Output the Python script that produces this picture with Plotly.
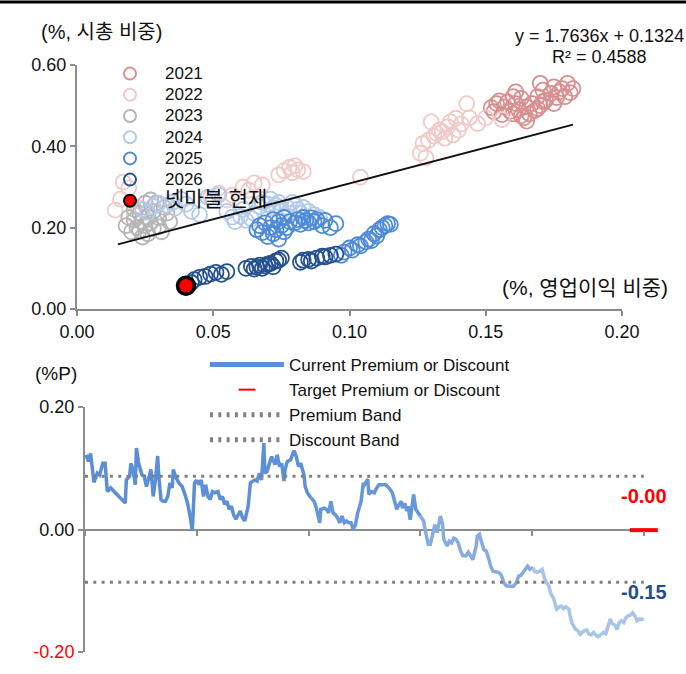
import plotly.graph_objects as go
import numpy as np

W, H = 686, 674

# ---------------- scatter data (x: 영업이익 비중, y: 시총 비중) ----------------
YEARS = ["2021", "2022", "2023", "2024", "2025", "2026"]

x21 = [0.152,0.153,0.154,0.155,0.156,0.157,0.158,0.159,0.160,0.161,0.161,0.162,0.163,0.163,0.164,0.165,0.166,0.167,0.168,0.169,0.169,0.170,0.171,0.171,0.172,0.174,0.175,0.176,0.177,0.178,0.179,0.180,0.181,0.182,0.160,0.165,0.170,0.175]
y21 = [0.495,0.485,0.505,0.512,0.478,0.497,0.509,0.486,0.522,0.505,0.534,0.490,0.518,0.475,0.470,0.497,0.480,0.505,0.488,0.522,0.493,0.555,0.538,0.510,0.513,0.530,0.546,0.520,0.534,0.542,0.522,0.555,0.532,0.542,0.480,0.462,0.500,0.505]

x22 = [0.126,0.127,0.128,0.129,0.130,0.131,0.132,0.133,0.134,0.135,0.136,0.137,0.138,0.139,0.140,0.141,0.143,0.144,0.147,0.150,0.156,0.104,0.074,0.076,0.078,0.079,0.080,0.081,0.083,0.061,0.063,0.065,0.068,0.049,0.052,0.055,0.057,0.014,0.016,0.017,0.019,0.021,0.022]
y22 = [0.383,0.407,0.372,0.415,0.460,0.425,0.432,0.440,0.436,0.420,0.448,0.460,0.428,0.469,0.440,0.455,0.505,0.470,0.456,0.470,0.466,0.324,0.330,0.340,0.348,0.335,0.352,0.342,0.338,0.300,0.292,0.310,0.305,0.275,0.285,0.268,0.280,0.243,0.270,0.312,0.298,0.231,0.250]

x23 = [0.018,0.019,0.020,0.021,0.021,0.022,0.023,0.023,0.024,0.024,0.025,0.025,0.026,0.026,0.027,0.027,0.028,0.028,0.029,0.030,0.030,0.031,0.032,0.033,0.034]
y23 = [0.205,0.225,0.190,0.219,0.245,0.200,0.194,0.235,0.177,0.215,0.260,0.205,0.226,0.185,0.268,0.212,0.198,0.240,0.260,0.202,0.225,0.190,0.250,0.236,0.215]

x24 = [0.024,0.026,0.028,0.030,0.033,0.035,0.036,0.038,0.040,0.042,0.045,0.048,0.050,0.052,0.055,0.057,0.058,0.060,0.061,0.062,0.064,0.065,0.067,0.068,0.070,0.071,0.072,0.073,0.074,0.075,0.076,0.077,0.078,0.079,0.080,0.081,0.082,0.083,0.085,0.087,0.089]
y24 = [0.245,0.238,0.252,0.260,0.255,0.262,0.248,0.270,0.258,0.240,0.232,0.275,0.268,0.280,0.240,0.226,0.215,0.228,0.245,0.218,0.222,0.235,0.252,0.262,0.258,0.270,0.248,0.255,0.262,0.240,0.228,0.250,0.236,0.262,0.256,0.245,0.236,0.250,0.240,0.232,0.225]

x25 = [0.066,0.067,0.068,0.069,0.070,0.071,0.072,0.072,0.073,0.074,0.074,0.075,0.076,0.076,0.077,0.078,0.080,0.081,0.082,0.083,0.084,0.085,0.086,0.087,0.088,0.090,0.091,0.093,0.095,0.097,0.098,0.100,0.101,0.103,0.104,0.106,0.107,0.108,0.109,0.110,0.111,0.112,0.113,0.114,0.115]
y25 = [0.195,0.205,0.188,0.212,0.178,0.200,0.220,0.185,0.195,0.172,0.215,0.205,0.190,0.225,0.200,0.215,0.212,0.220,0.208,0.225,0.218,0.212,0.224,0.215,0.220,0.205,0.218,0.200,0.210,0.132,0.140,0.150,0.145,0.158,0.155,0.165,0.172,0.168,0.185,0.180,0.195,0.200,0.205,0.210,0.208]

x26 = [0.042,0.043,0.045,0.047,0.049,0.051,0.053,0.055,0.062,0.064,0.065,0.066,0.067,0.068,0.069,0.070,0.071,0.072,0.073,0.074,0.075,0.082,0.083,0.085,0.086,0.088,0.090,0.091,0.093,0.095]
y26 = [0.065,0.072,0.078,0.080,0.086,0.090,0.085,0.092,0.100,0.105,0.098,0.103,0.108,0.100,0.106,0.110,0.112,0.104,0.118,0.120,0.125,0.115,0.120,0.122,0.118,0.125,0.130,0.128,0.132,0.135]

NOW_NAME = "넷마블 현재"
now_x = [0.040]
now_y = [0.057]

# regression reported in the chart
SLOPE, INTERCEPT, R2 = 1.7636, 0.1324, 0.4588

# ---------------- premium / discount time series ----------------
t_cur = [2021.01,2021.03,2021.05,2021.08,2021.11,2021.13,2021.16,2021.18,2021.20,2021.23,2021.26,2021.29,2021.33,2021.36,2021.37,2021.40,2021.41,2021.43,2021.45,2021.46,2021.48,2021.51,2021.53,2021.55,2021.57,2021.59,2021.61,2021.63,2021.65,2021.66,2021.68,2021.70,2021.72,2021.74,2021.76,2021.78,2021.79,2021.81,2021.84,2021.87,2021.90,2021.92,2021.94,2021.96,2021.98,
         2022.00,2022.02,2022.04,2022.06,2022.08,2022.10,2022.12,2022.14,2022.16,2022.19,2022.21,2022.23,2022.25,2022.27,2022.29,2022.31,2022.33,2022.35,2022.37,2022.39,2022.41,2022.43,2022.46,2022.48,2022.50,2022.52,2022.54,2022.56,2022.58,2022.60,2022.61,2022.63,2022.65,2022.67,2022.70,2022.72,2022.74,2022.76,2022.78,2022.79,2022.81,2022.84,2022.87,2022.89,2022.91,2022.93,2022.96,2022.97,2022.99,
         2023.02,2023.05,2023.07,2023.08,2023.10,2023.11,2023.14,2023.16,2023.18,2023.20,2023.22,2023.24,2023.26,2023.28,2023.30,2023.32,2023.34,2023.36,2023.38,2023.40,2023.42,2023.44,2023.47,2023.49,2023.50,2023.53,2023.54,2023.56,2023.59,2023.61,2023.63,2023.66,2023.69,2023.72,2023.75,2023.77,2023.79,2023.80,2023.83,2023.84,2023.86,2023.88,2023.89,2023.91,2023.93,2023.94,2023.96,2023.98,
         2024.00,2024.03,2024.04,2024.06,2024.07,2024.09,2024.12,2024.13,2024.15,2024.17,2024.18,2024.20,2024.21,2024.24,2024.26,2024.28,2024.30,2024.32,2024.34,2024.36,2024.38,2024.41,2024.43,2024.45,2024.47,2024.50,2024.51,2024.53,2024.54,2024.57,2024.59,2024.61,2024.63,2024.65,2024.68,2024.70,2024.72,2024.75,2024.77,2024.79,2024.81,2024.83,2024.86,2024.88,2024.90,2024.92,2024.94,2024.96,2024.98,
         2025.01,2025.02,2025.04,2025.07,2025.09,2025.11,2025.13,2025.15,2025.17,2025.19,2025.20,2025.22,2025.24,2025.26,2025.28,2025.30,2025.33,2025.34,2025.36,2025.39,2025.41,2025.43,2025.45,2025.47,2025.49,2025.51,2025.53,2025.55,2025.57,2025.59,2025.62,2025.64,2025.66,2025.68,2025.70,2025.72,2025.74,2025.76,2025.78,2025.80,2025.82,2025.84,2025.86,2025.88,2025.90,2025.92,2025.94,2025.96,2025.98,2026.00]
v_cur = [0.122,0.111,0.124,0.077,0.092,0.089,0.108,0.108,0.062,0.068,0.062,0.057,0.049,0.043,0.081,0.087,0.108,0.098,0.073,0.133,0.108,0.089,0.087,0.070,0.087,0.098,0.054,0.081,0.120,0.087,0.049,0.046,0.046,0.054,0.076,0.068,0.098,0.087,0.076,0.070,0.054,0.041,0.022,-0.002,0.076,
         0.081,0.073,0.081,0.054,0.073,0.054,0.049,0.062,0.060,0.062,0.049,0.054,0.041,0.046,0.033,0.038,0.024,0.017,0.024,0.030,0.019,0.014,0.038,0.076,0.079,0.081,0.079,0.092,0.081,0.141,0.092,0.095,0.108,0.119,0.106,0.122,0.103,0.108,0.079,0.098,0.111,0.114,0.129,0.119,0.103,0.108,0.089,0.070,0.060,
         0.052,0.046,0.035,0.027,0.011,0.033,0.035,0.033,0.027,0.046,0.027,0.024,0.019,0.011,0.022,0.011,0.014,0.011,0.011,0.000,0.008,0.027,0.046,0.076,0.073,0.082,0.057,0.062,0.060,0.068,0.073,0.073,0.073,0.068,0.060,0.046,0.033,0.038,0.046,0.035,0.043,0.030,0.038,0.016,0.043,0.057,0.033,0.027,
         0.022,0.014,0.003,-0.016,-0.024,-0.024,-0.003,0.008,-0.005,0.016,0.022,0.008,-0.016,-0.027,-0.019,-0.022,-0.014,-0.016,-0.022,-0.035,-0.043,-0.043,-0.037,-0.043,-0.049,-0.027,-0.011,-0.008,-0.016,-0.033,-0.035,-0.046,-0.060,-0.068,-0.069,-0.070,-0.073,-0.087,-0.092,-0.092,-0.093,-0.093,-0.087,-0.076,-0.075,-0.070,-0.064,-0.060,-0.065,
         -0.062,-0.068,-0.070,-0.068,-0.065,-0.079,-0.087,-0.092,-0.106,-0.111,-0.117,-0.130,-0.127,-0.125,-0.129,-0.126,-0.130,-0.141,-0.154,-0.163,-0.165,-0.171,-0.168,-0.165,-0.164,-0.171,-0.172,-0.168,-0.172,-0.175,-0.171,-0.168,-0.170,-0.157,-0.146,-0.154,-0.156,-0.163,-0.152,-0.149,-0.152,-0.144,-0.141,-0.140,-0.136,-0.141,-0.149,-0.146,-0.147,-0.146]

target_t = [2026.00]
target_v = [-0.001]
band_t = [2021.0, 2026.0]
premium_band = [0.087, 0.087]
discount_band = [-0.086, -0.086]

SEG_YEARS = [2021, 2022, 2023, 2024, 2025]
SEG_COLORS = ["#5a8ed6", "#5c90d8", "#6597da", "#86abe0", "#a9c4ea"]

XTICKS_TOP = [0.00, 0.05, 0.10, 0.15, 0.20]
YTICKS_TOP = [0.00, 0.20, 0.40, 0.60]
YTICKS_BOT = [-0.20, 0.00, 0.20]
XTICKS_BOT = [2021, 2022, 2023, 2024, 2025]

# ---------------- styling ----------------
FONT = "Liberation Sans, Arial, Noto Sans CJK KR, sans-serif"
KFONT = "Liberation Sans, Noto Sans CJK KR, sans-serif"
AX = "#8c8c8c"
SC_COLORS = ["#d98f8f", "#f0c9c9", "#b5b5b5", "#b3caeb", "#4d8ad9", "#23508e"]

def px(x):
    return x / W

def py(y):
    return 1 - y / H

def big(s, size=17):
    return f'<span style="font-size:{size}px">{s}</span>'

fig = go.Figure()

series = [(x21, y21), (x22, y22), (x23, y23), (x24, y24), (x25, y25), (x26, y26)]
for name, (xs, ys), col in zip(YEARS, series, SC_COLORS):
    fig.add_trace(go.Scatter(
        x=xs, y=ys, mode="markers", name=big(name), legend="legend",
        marker=dict(symbol="circle-open", size=15, color=col, line=dict(width=1.8, color=col)),
        xaxis="x", yaxis="y"))

# trendline
all_x = np.array(x21 + x22 + x23 + x24 + x25 + x26)
tx = np.array([all_x.min() + 0.001, all_x.max()])
fig.add_trace(go.Scatter(x=tx, y=SLOPE * tx + INTERCEPT, mode="lines", showlegend=False,
                         line=dict(color="#111111", width=2), xaxis="x", yaxis="y"))

fig.add_trace(go.Scatter(
    x=now_x, y=now_y, mode="markers", name=big(NOW_NAME, 21), legend="legend",
    marker=dict(symbol="circle", size=17, color="#ff0000", line=dict(width=3.5, color="#000000")),
    xaxis="x", yaxis="y"))

# time series segments coloured by year
t_arr = np.array(t_cur)
v_arr = np.array(v_cur)
for i, (yr, col) in enumerate(zip(SEG_YEARS, SEG_COLORS)):
    idx = np.where((t_arr >= yr) & (t_arr < yr + 1))[0]
    if len(idx) == 0:
        continue
    end = min(idx[-1] + 2, len(t_arr))
    fig.add_trace(go.Scatter(
        x=t_arr[idx[0]:end], y=v_arr[idx[0]:end], mode="lines",
        name="Current Premium or Discount", legend="legend2",
        showlegend=(i == 0), legendgroup="cur",
        line=dict(color=col, width=3.5), xaxis="x2", yaxis="y2"))

fig.add_trace(go.Scatter(
    x=target_t, y=target_v, mode="markers", name="Target Premium or Discount", legend="legend2",
    legendgroup="tgt", cliponaxis=False,
    marker=dict(symbol="line-ew", size=20, color="#ff0000", line=dict(width=4, color="#ff0000")),
    xaxis="x2", yaxis="y2"))

fig.add_trace(go.Scatter(
    x=band_t, y=premium_band, mode="lines", name="Premium Band", legend="legend2", legendgroup="pb",
    line=dict(color="#808080", width=3, dash="3px,5.3px"), xaxis="x3", yaxis="y2"))
fig.add_trace(go.Scatter(
    x=band_t, y=discount_band, mode="lines", name="Discount Band", legend="legend2", legendgroup="db",
    line=dict(color="#808080", width=3, dash="3px,5.3px"), xaxis="x3", yaxis="y2"))

tickfont = dict(family=FONT, size=18, color="#111111")
axis_common = dict(showline=True, linecolor=AX, linewidth=2, ticks="outside", ticklen=5,
                   tickwidth=2, tickcolor=AX, showgrid=False, tickfont=tickfont, automargin=False)

y_zero_px = 530
fig.update_layout(
    width=W, height=H, margin=dict(l=0, r=0, t=0, b=0, autoexpand=False),
    paper_bgcolor="white", plot_bgcolor="rgba(0,0,0,0)",
    font=dict(family=FONT, size=17, color="#111111"),
    xaxis=dict(domain=[px(77), px(622)], range=[0, 0.2], tickvals=XTICKS_TOP, tickformat=".2f",
               anchor="y", zeroline=False, **axis_common),
    yaxis=dict(domain=[py(309), py(65)], range=[0, 0.6], tickvals=YTICKS_TOP, tickformat=".2f",
               anchor="x", zeroline=False, **axis_common),
    xaxis2=dict(domain=[px(85), px(655)], range=[2021, 2026.1], tickvals=XTICKS_BOT,
                ticktext=[str(v) for v in XTICKS_BOT], anchor="y2", showline=False, ticks="",
                ticklabelstandoff=24, showgrid=False, zeroline=False, tickfont=tickfont,
                automargin=False),
    xaxis3=dict(overlaying="x2", range=[2021, 2026.1], anchor="free", position=py(y_zero_px),
                tickvals=XTICKS_BOT + [2026], showticklabels=False, ticks="outside", ticklen=5,
                tickwidth=2, tickcolor=AX, showline=False, showgrid=False, zeroline=False,
                automargin=False),
    yaxis2=dict(domain=[py(652), py(407)], range=[-0.2, 0.2], tickvals=YTICKS_BOT,
                ticktext=['<span style="color:#ff0000">-0.20</span>', "0.00", "0.20"],
                anchor="x2", zeroline=True, zerolinecolor=AX, zerolinewidth=2, **axis_common),
    legend=dict(x=px(95), y=py(58), xanchor="left", yanchor="top", bgcolor="rgba(0,0,0,0)",
                font=dict(family=KFONT, size=14, color="#111111"), itemsizing="constant",
                itemwidth=60, tracegroupgap=0),
    legend2=dict(x=px(205), y=py(347), xanchor="left", yanchor="top", bgcolor="rgba(0,0,0,0)",
                 font=dict(family=FONT, size=17, color="#111111"), traceorder="grouped",
                 tracegroupgap=0, itemsizing="constant", itemwidth=74),
    showlegend=True,
)

annos = [
    dict(text="(%, 시총 비중)", x=px(101), y=py(32), font=dict(family=KFONT, size=20)),
    dict(text="(%, 영업이익 비중)", x=px(670), y=py(287), xanchor="right", font=dict(family=KFONT, size=21)),
    dict(text=f"y = {SLOPE:.4f}x + {INTERCEPT:.4f}", x=px(599), y=py(36), font=dict(family=FONT, size=18)),
    dict(text=f"R² = {R2:.4f}", x=px(599), y=py(57), font=dict(family=FONT, size=18)),
    dict(text="(%P)", x=px(56), y=py(374), font=dict(family=FONT, size=19)),
]
for a in annos:
    a.update(xref="paper", yref="paper", showarrow=False, yanchor="middle")
    a.setdefault("xanchor", "center")
    fig.add_annotation(**a)

fig.add_annotation(x=target_t[0], y=target_v[0], xref="x2", yref="y2", text=f"<b>{target_v[0]:.2f}</b>",
                   showarrow=False, yshift=34, font=dict(family=FONT, size=20, color="#ff0000"))
fig.add_annotation(x=t_cur[-1], y=v_cur[-1], xref="x2", yref="y2", text=f"<b>{v_cur[-1]:.2f}</b>",
                   showarrow=False, yshift=27, font=dict(family=FONT, size=20, color="#1f4e8c"))

# top border rule
fig.add_shape(type="line", xref="paper", yref="paper", x0=0, x1=1, y0=py(2), y1=py(2),
              line=dict(color="#000000", width=3))

fig.write_html("out.html", config={"displayModeBar": False},
               post_script="document.body.style.margin='0';document.body.style.overflow='hidden';")
